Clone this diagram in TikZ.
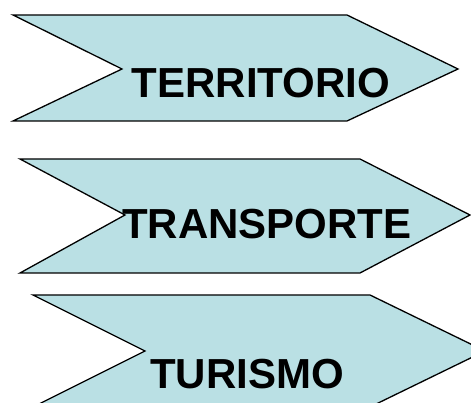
\documentclass[tikz,border=0pt]{standalone}
\usepackage{fontspec}
\setmainfont{Liberation Sans}
\definecolor{chevfill}{RGB}{186,224,228}
\begin{document}
\begin{tikzpicture}[x=1pt,y=1pt,
  chev/.style={draw=black, line width=1.3pt, fill=chevfill, line join=miter},
  lbl/.style={anchor=base, inner sep=0pt, font=\fontsize{42}{45}\selectfont\bfseries}]
\useasboundingbox (0,0) rectangle (471,403);
\clip (0,0) rectangle (471,403);
\draw[chev] (13,388) -- (347,388) -- (458,334) -- (347,282) -- (13,282) -- (122,334) -- cycle;
\draw[chev] (20,244) -- (360,244) -- (470,188) -- (360,130) -- (20,130) -- (125,188) -- cycle;
\draw[chev] (33,108) -- (370,108) -- (485,52) -- (370,-4) -- (33,-4) -- (145,52) -- cycle;
\node[lbl] (t1) at (261,305.5) {TERRITORIO};
\node[lbl] (t2) at (267,164.5) {TRANSPORTE};
\node[lbl] (t3) at (247,14.5) {TURISMO};
\end{tikzpicture}
\end{document}
